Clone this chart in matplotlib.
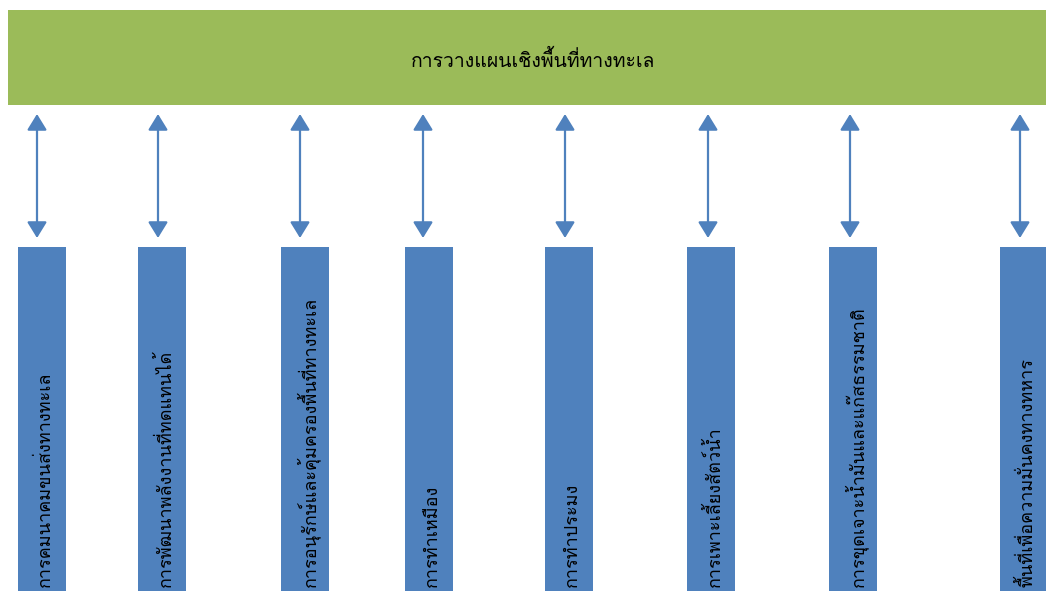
import matplotlib
matplotlib.use("Agg")
import matplotlib.pyplot as plt
from matplotlib import font_manager
from matplotlib.ft2font import FT2Font
from matplotlib.patches import Rectangle, FancyArrowPatch

# ---- data ----
title = "การวางแผนเชิงพื้นที่ทางทะเล"
categories = [
    "การคมนาคมขนส่งทางทะเล",
    "การพัฒนาพลังงานที่ทดแทนได้",
    "การอนุรักษ์และคุ้มครองพื้นที่ทางทะเล",
    "การทำเหมือง",
    "การทำประมง",
    "การเพาะเลี้ยงสัตว์น้ำ",
    "การขุดเจาะน้ำมันและแก๊สธรรมชาติ",
    "พื้นที่เพื่อความมั่นคงทางทหาร",
]

# ---- layout (pixels) ----
bar_left = [18, 138, 281, 405, 545, 687, 829, 1000]
bar_width = 48
arrow_x = [37, 158, 300, 423, 565, 708, 850, 1020]

GREEN = "#9BBB59"
BLUE = "#4F81BD"

# find a font with Thai glyphs
thai_fonts = []
for f in font_manager.fontManager.ttflist:
    try:
        ft = FT2Font(f.fname)
        if ft.get_char_index(ord("ก")) != 0 and f.name not in thai_fonts:
            thai_fonts.append(f.name)
    except Exception:
        pass
families = thai_fonts[:1] + ["DejaVu Sans"]
plt.rcParams["font.family"] = families

W, H = 1046, 591
fig = plt.figure(figsize=(W / 100, H / 100), dpi=100)
ax = fig.add_axes([0, 0, 1, 1])
ax.set_xlim(0, W)
ax.set_ylim(H, 0)
ax.axis("off")

# top box
ax.add_patch(Rectangle((8, 10), W - 8, 95, facecolor=GREEN, edgecolor="none"))
ax.text(533, 60, title, ha="center", va="center", fontsize=14, color="black")

# arrows
for x in arrow_x:
    ax.add_patch(FancyArrowPatch((x, 114), (x, 238), arrowstyle="<|-|>,head_length=6.5,head_width=4",
                                 color=BLUE, lw=1.6, mutation_scale=1.5, shrinkA=0, shrinkB=0))

# bars + labels
for left, lab in zip(bar_left, categories):
    ax.add_patch(Rectangle((left, 247), bar_width, H - 247, facecolor=BLUE, edgecolor="none"))
    ax.text(left + bar_width / 2 + 3, 587, lab, rotation=90, rotation_mode="anchor",
            ha="left", va="center", fontsize=13, color="black")

fig.savefig("out.png", dpi=100)
